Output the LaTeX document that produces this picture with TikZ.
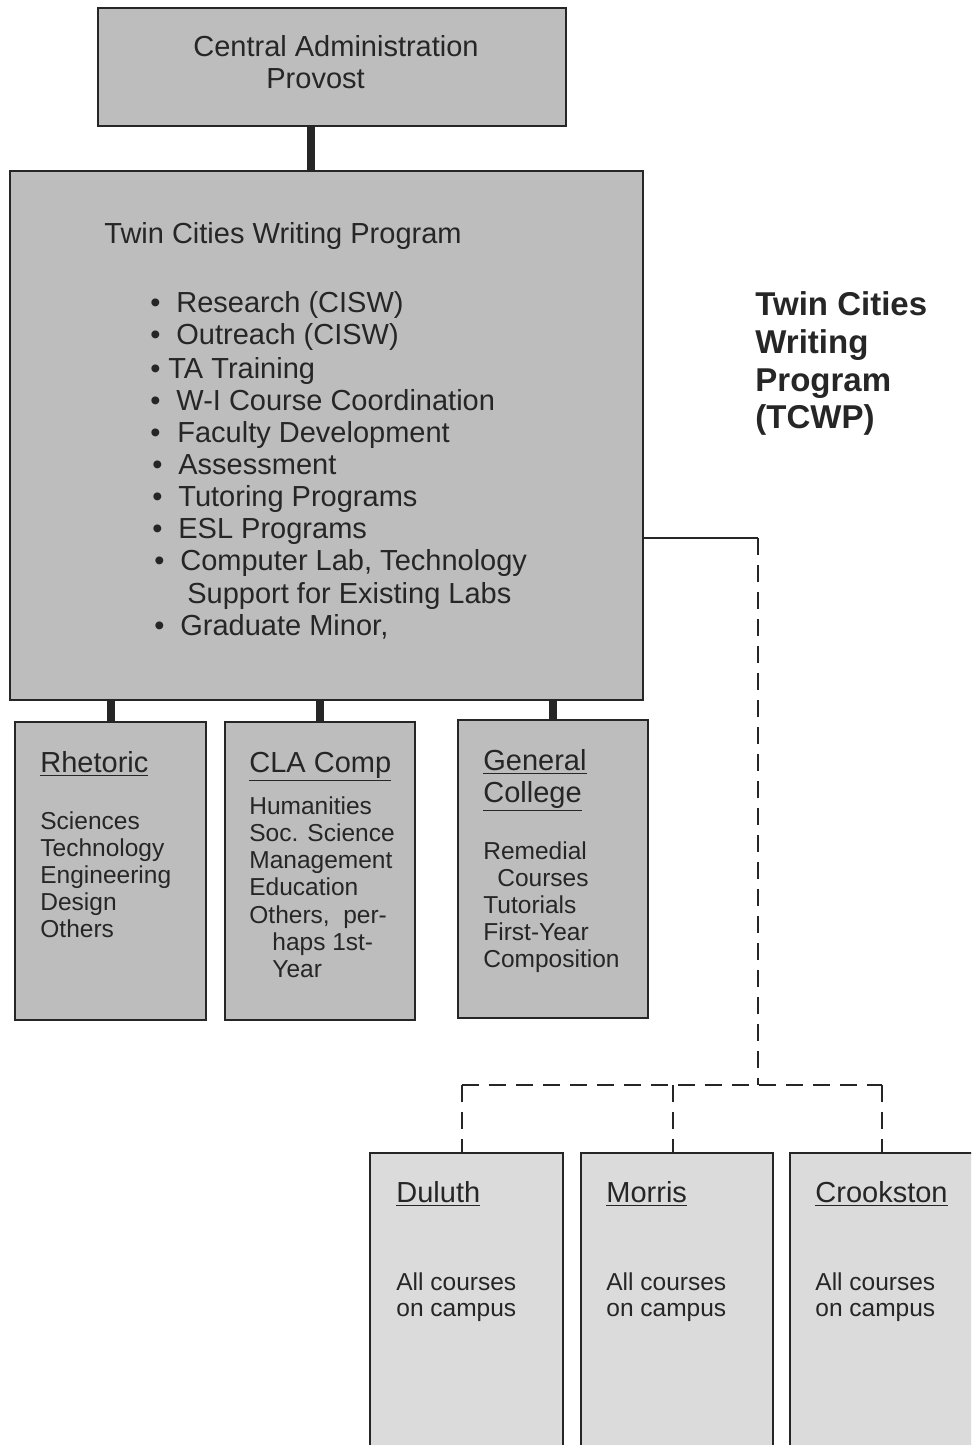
\documentclass[tikz,border=0pt]{standalone}
\usepackage{fontspec}
\setmainfont{Liberation Sans}
\definecolor{boxgray}{gray}{0.74}
\definecolor{lightgray2}{gray}{0.86}
\definecolor{ink}{gray}{0.15}
\begin{document}
\begin{tikzpicture}[x=0.5pt,y=-0.5pt,
  box/.style={draw=ink, line width=1pt, fill=boxgray, inner sep=0pt},
  lbox/.style={box, fill=lightgray2},
  big/.style={anchor=base west, inner sep=0pt, text=ink, font=\fontsize{14.5}{16}\selectfont},
  small/.style={anchor=base west, inner sep=0pt, text=ink, font=\fontsize{12.25}{13.5}\selectfont},
  side/.style={anchor=base west, inner sep=0pt, text=ink, font=\fontsize{16.5}{19}\selectfont\bfseries},
  heavy/.style={line width=4pt, draw=ink},
  thinline/.style={line width=1pt, draw=ink},
  dashline/.style={thinline, dash pattern=on 8.5pt off 5pt}]
\path[use as bounding box] (0,0) rectangle (971,1445);
\clip (0,0) rectangle (971,1445);

% boxes
\node[box, minimum width=234pt, minimum height=59pt] (top) at (332,67) {};
\node[box, minimum width=316.5pt, minimum height=264.5pt] (main) at (326.5,435.5) {};
\node[box, minimum width=95.5pt, minimum height=149pt] (rhet) at (110.5,871) {};
\node[box, minimum width=95pt, minimum height=149pt] (cla) at (320,871) {};
\node[box, minimum width=95pt, minimum height=149pt] (gc) at (553,869) {};
\node[lbox, minimum width=96.5pt, minimum height=148.5pt] (dul) at (466.5,1301.5) {};
\node[lbox, minimum width=96pt, minimum height=148.5pt] (mor) at (677,1301.5) {};
\node[lbox, minimum width=100pt, minimum height=148.5pt] (cro) at (890,1301.5) {};

% connectors
\coordinate (c0) at (311,0);
\draw[heavy] (top.south -| c0) -- (main.north -| c0);
\draw[heavy] (main.south -| rhet.north) -- (rhet.north);
\draw[heavy] (main.south -| cla.north) -- (cla.north);
\draw[heavy] (main.south -| gc.north) -- (gc.north);
\coordinate (j1) at (758,538);
\coordinate (j2) at (758,1085);
\coordinate (d1) at (462,1085);
\coordinate (d2) at (673,1085);
\coordinate (d3) at (882,1085);
\draw[thinline] (main.east |- j1) -- (j1);
\draw[dashline] (j1) -- (j2);
\draw[dashline] (d1) -- (d3);
\draw[dashline] (d1) -- (d1 |- dul.north);
\draw[dashline] (d2) -- (d2 |- mor.north);
\draw[dashline] (d3) -- (d3 |- cro.north);

% top box text
\node[big] (t1) at (193,57) {Central Administration};
\node[big] (t2) at (266,89) {Provost};

% main box text
\node[big] (m0) at (104,243) {Twin Cities Writing Program};
\node[big] (b1) at (150,312) {\textbullet};
\node[big] (i1) at (176,312) {Research (CISW)};
\node[big] (b2) at (150,344) {\textbullet};
\node[big] (i2) at (176,344) {Outreach (CISW)};
\node[big] (b3) at (150,378) {\textbullet};
\node[big] (i3) at (168,378) {TA Training};
\node[big] (b4) at (150,410) {\textbullet};
\node[big] (i4) at (176,410) {W-I Course Coordination};
\node[big] (b5) at (150,442) {\textbullet};
\node[big] (i5) at (177,442) {Faculty Development};
\node[big] (b6) at (152,474) {\textbullet};
\node[big] (i6) at (178,474) {Assessment};
\node[big] (b7) at (152,506) {\textbullet};
\node[big] (i7) at (178,506) {Tutoring Programs};
\node[big] (b8) at (152,538) {\textbullet};
\node[big] (i8) at (178,538) {ESL Programs};
\node[big] (b9) at (154,570) {\textbullet};
\node[big] (i9) at (180,570) {Computer Lab, Technology};
\node[big] (i10) at (187,603) {Support for Existing Labs};
\node[big] (b11) at (154,635) {\textbullet};
\node[big] (i11) at (180,635) {Graduate Minor,};

% Rhetoric
\node[big] (rh) at (40,772) {\underline{Rhetoric}};
\node[small] (r1) at (40,829) {Sciences};
\node[small] (r2) at (40,856) {Technology};
\node[small] (r3) at (40,883) {Engineering};
\node[small] (r4) at (40,910) {Design};
\node[small] (r5) at (40,937) {Others};

% CLA Comp
\node[big] (ch) at (249,772) {\underline{CLA Comp}};
\node[small] (k1) at (249,814) {Humanities};
\node[small] (k2) at (249,841) {Soc. Science};
\node[small] (k3) at (249,868) {Management};
\node[small] (k4) at (249,895) {Education};
\node[small] (k5) at (249,923) {Others,\ \ per-};
\node[small] (k6) at (272,950) {haps 1st-};
\node[small] (k7) at (272,977) {Year};

% General College
\node[big] (gh1) at (483,770) {\underline{General}};
\node[big] (gh2) at (483,802) {\underline{College}};
\node[small] (g1) at (483,859) {Remedial};
\node[small] (g2) at (497,886) {Courses};
\node[small] (g3) at (483,913) {Tutorials};
\node[small] (g4) at (483,940) {First-Year};
\node[small] (g5) at (483,967) {Composition};

% campuses
\node[big] (dh) at (396,1202) {\underline{Duluth}};
\node[small] (d1t) at (396,1290) {All courses};
\node[small] (d2t) at (396,1316) {on campus};
\node[big] (mh) at (606,1202) {\underline{Morris}};
\node[small] (m1t) at (606,1290) {All courses};
\node[small] (m2t) at (606,1316) {on campus};
\node[big] (crh) at (815,1202) {\underline{Crookston}};
\node[small] (c1t) at (815,1290) {All courses};
\node[small] (c2t) at (815,1316) {on campus};

% side label
\node[side] (s1) at (755,315) {Twin Cities};
\node[side] (s2) at (755,353) {Writing};
\node[side] (s3) at (755,391) {Program};
\node[side] (s4) at (755,428) {(TCWP)};
\end{tikzpicture}
\end{document}
